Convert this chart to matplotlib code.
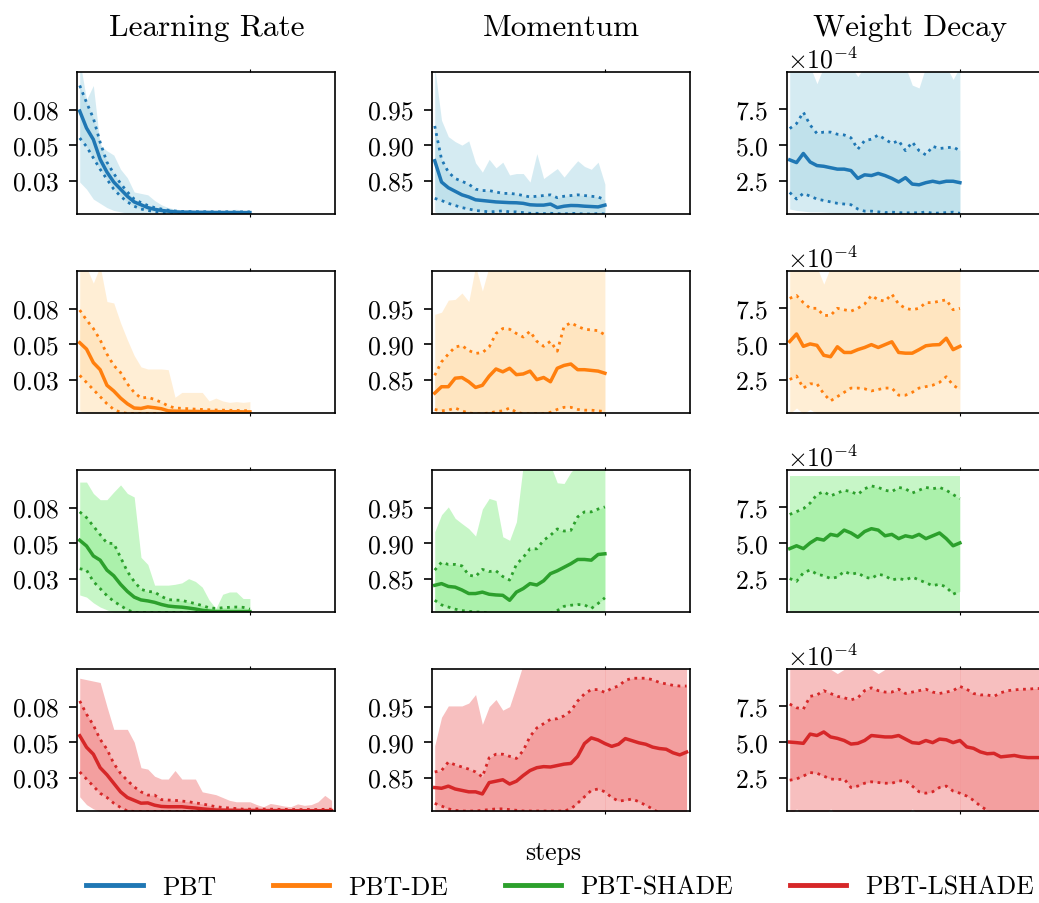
import numpy as np
import matplotlib
matplotlib.use("Agg")
import matplotlib.pyplot as plt
from matplotlib.lines import Line2D

plt.rcParams['font.family'] = 'cmr10'
plt.rcParams['mathtext.fontset'] = 'cm'
plt.rcParams['axes.formatter.use_mathtext'] = True
plt.rcParams['axes.unicode_minus'] = True

# pasos muestreados cada 2
steps = np.arange(0, 51, 2)
steps_red = np.arange(0, 75, 2)

methods = ["PBT", "PBT-DE", "PBT-SHADE", "PBT-LSHADE"]
params = ["Learning Rate", "Momentum", "Weight Decay"]
line_colors = ["#1f77b4", "#ff7f0e", "#2ca02c", "#d62728"]
fill_colors = ["lightblue", "navajowhite", "lightgreen", "lightcoral"]

# ---------------- PBT ----------------
lr_pbt_mean = [0.074, 0.062, 0.054, 0.040, 0.031, 0.024, 0.019, 0.014, 0.010, 0.008, 0.006, 0.0048, 0.004,
               0.0035, 0.003, 0.0028, 0.0028, 0.0027, 0.0027, 0.0026, 0.0026, 0.0026, 0.0025, 0.0025, 0.0025, 0.0025]
lr_pbt_hi = [0.092, 0.080, 0.069, 0.052, 0.038, 0.030, 0.023, 0.017, 0.012, 0.0095, 0.0075, 0.006, 0.005,
             0.0042, 0.0036, 0.0033, 0.0032, 0.0031, 0.0031, 0.0031, 0.003, 0.003, 0.0031, 0.003, 0.003, 0.003]
lr_pbt_lo = [0.055, 0.049, 0.041, 0.033, 0.026, 0.019, 0.014, 0.010, 0.007, 0.005, 0.004, 0.0032, 0.0026,
             0.0022, 0.0022, 0.0022, 0.0022, 0.0022, 0.0022, 0.0022, 0.0022, 0.0022, 0.0022, 0.0022, 0.0022, 0.0022]
lr_pbt_max = [0.11, 0.082, 0.092, 0.05, 0.046, 0.043, 0.033, 0.027, 0.017, 0.016, 0.015, 0.011, 0.008, 0.006,
              0.005, 0.0045, 0.0042, 0.004, 0.004, 0.0042, 0.004, 0.004, 0.0045, 0.0048, 0.0042, 0.004]
lr_pbt_min = [0.024, 0.019, 0.012, 0.009, 0.006, 0.004, 0.003] + [0.002] * 19

mo_pbt_mean = [0.878, 0.848, 0.840, 0.835, 0.830, 0.827, 0.823, 0.822, 0.821, 0.820, 0.8195, 0.819, 0.8188,
               0.818, 0.816, 0.8155, 0.8155, 0.817, 0.812, 0.814, 0.815, 0.8148, 0.814, 0.8135, 0.813, 0.8155]
mo_pbt_hi = [0.927, 0.880, 0.862, 0.853, 0.849, 0.845, 0.838, 0.836, 0.836, 0.834, 0.832, 0.832, 0.831,
             0.829, 0.827, 0.828, 0.829, 0.830, 0.826, 0.828, 0.829, 0.830, 0.829, 0.828, 0.827, 0.823]
mo_pbt_lo = [0.825, 0.822, 0.818, 0.815, 0.812, 0.810, 0.808, 0.807, 0.806, 0.8065, 0.8075, 0.806, 0.806,
             0.805, 0.804, 0.804, 0.8035, 0.804, 0.8035, 0.803, 0.804, 0.8035, 0.803, 0.803, 0.8035, 0.803]
mo_pbt_max = [1.01, 0.935, 0.912, 0.905, 0.900, 0.906, 0.875, 0.862, 0.880, 0.868, 0.876, 0.858, 0.860,
              0.860, 0.848, 0.888, 0.853, 0.860, 0.867, 0.855, 0.867, 0.878, 0.870, 0.866, 0.876, 0.845]
mo_pbt_min = [0.806] + [0.801] * 25

wd_pbt_mean = [3.95, 3.76, 4.4, 3.8, 3.55, 3.5, 3.4, 3.3, 3.3, 3.2, 2.65, 2.9, 2.85, 3.0, 2.85, 2.65, 2.4,
               2.7, 2.25, 2.2, 2.35, 2.45, 2.35, 2.45, 2.45, 2.35]
wd_pbt_hi = [6.15, 6.5, 7.3, 6.4, 5.8, 5.9, 5.9, 5.75, 5.7, 5.5, 4.7, 5.3, 5.4, 5.7, 5.4, 5.1, 5.3, 4.6, 5.2,
             4.6, 4.3, 4.9, 4.75, 4.8, 4.85, 4.6]
wd_pbt_lo = [1.66, 1.2, 1.6, 1.4, 1.2, 1.1, 1.0, 0.9, 0.85, 0.8, 0.5, 0.35, 0.35, 0.3, 0.25, 0.28, 0.25,
             0.22, 0.25, 0.22, 0.3, 0.2, 0.22, 0.25, 0.28, 0.2]
wd_pbt_max = [10.5, 10.5, 10.5, 10.5, 9.3, 10.5, 10.5, 10.5, 10.5, 10.5, 9.8, 10.5, 10.5, 10.5, 10.5, 10.5,
              10.5, 10.5, 9.2, 9.0, 10.5, 10.5, 10.5, 10.5, 9.6, 10.5]
wd_pbt_min = [0.5, 0.4, 0.35, 0.3, 0.3, 0.28, 0.25] + [0.2] * 19

# ---------------- PBT-DE ----------------
lr_de_mean = [0.051, 0.0465, 0.037, 0.032, 0.021, 0.017, 0.012, 0.008, 0.005, 0.0047, 0.0058, 0.0052, 0.0045,
              0.003, 0.0028, 0.0027, 0.0026, 0.0026, 0.0025, 0.0025, 0.0025, 0.0024, 0.0024, 0.0024, 0.0023, 0.0023]
lr_de_hi = [0.074, 0.067, 0.061, 0.053, 0.043, 0.035, 0.030, 0.022, 0.016, 0.012, 0.0126, 0.011, 0.009,
            0.0065, 0.005, 0.0048, 0.0045, 0.0042, 0.004, 0.0038, 0.0036, 0.0035, 0.0034, 0.0033, 0.0032, 0.003]
lr_de_lo = [0.028, 0.023, 0.018, 0.013, 0.008, 0.004, 0.002] + [0.0012] * 19
lr_de_max = [0.105, 0.104, 0.093, 0.105, 0.080, 0.079, 0.065, 0.053, 0.042, 0.034, 0.0325, 0.0325, 0.0325,
             0.032, 0.0126, 0.016, 0.016, 0.016, 0.016, 0.010, 0.012, 0.010, 0.009, 0.0095, 0.009, 0.0095]
lr_de_min = [0.003] + [0.0012] * 25

mo_de_mean = [0.831, 0.840, 0.840, 0.852, 0.853, 0.847, 0.839, 0.842, 0.855, 0.865, 0.861, 0.866, 0.857,
              0.858, 0.862, 0.850, 0.853, 0.847, 0.866, 0.870, 0.872, 0.864, 0.864, 0.863, 0.862, 0.859]
mo_de_hi = [0.856, 0.875, 0.886, 0.896, 0.898, 0.891, 0.887, 0.888, 0.896, 0.915, 0.922, 0.921, 0.915,
            0.910, 0.918, 0.904, 0.897, 0.904, 0.890, 0.925, 0.930, 0.925, 0.921, 0.920, 0.919, 0.913]
mo_de_lo = [0.808, 0.806, 0.807, 0.810, 0.806, 0.803, 0.802, 0.802, 0.803, 0.805, 0.806, 0.810, 0.804,
            0.802, 0.802, 0.802, 0.802, 0.804, 0.808, 0.811, 0.811, 0.808, 0.807, 0.807, 0.806, 0.805]
mo_de_max = [0.942, 0.945, 0.962, 0.963, 0.972, 0.96, 1.01, 0.975] + [1.01] * 18
mo_de_min = [0.80] * 26

wd_de_mean = [5.17, 5.7, 4.83, 5.0, 4.9, 4.2, 4.1, 4.8, 4.4, 4.4, 4.6, 4.75, 4.95, 4.75, 4.95, 5.15, 4.4,
              4.35, 4.35, 4.6, 4.87, 4.93, 4.95, 5.4, 4.6, 4.83]
wd_de_hi = [8.2, 8.4, 7.9, 7.5, 7.5, 7.0, 7.0, 7.5, 7.4, 7.3, 7.5, 7.8, 8.4, 8.1, 8.0, 8.5, 7.8, 7.5, 7.4,
            7.5, 7.9, 7.9, 8.0, 8.1, 7.4, 7.5]
wd_de_lo = [2.5, 2.75, 1.9, 2.2, 2.2, 1.5, 1.0, 1.3, 1.6, 1.9, 1.9, 1.85, 1.7, 1.8, 1.9, 1.9, 1.4, 1.4, 1.6,
            1.9, 2.0, 2.1, 2.3, 2.7, 2.1, 1.8]
wd_de_max = [10.4] * 5 + [9.2] + [10.4] * 20
wd_de_min = [0.1, 0.5, 0.1, 0.4] + [0.1] * 22

# ---------------- PBT-SHADE ----------------
lr_sh_mean = [0.052, 0.048, 0.041, 0.038, 0.031, 0.027, 0.021, 0.016, 0.012, 0.010, 0.0093, 0.0083, 0.0068,
              0.0057, 0.0052, 0.0049, 0.0043, 0.0036, 0.0027, 0.0022, 0.0018, 0.0018, 0.0018, 0.0018, 0.0018, 0.0018]
lr_sh_hi = [0.072, 0.068, 0.062, 0.056, 0.050, 0.0497, 0.040, 0.030, 0.023, 0.0175, 0.016, 0.0155, 0.0125,
            0.0102, 0.0099, 0.0097, 0.0085, 0.0074, 0.006, 0.0045, 0.004, 0.0045, 0.0048, 0.005, 0.0048, 0.0035]
lr_sh_lo = [0.032, 0.031, 0.023, 0.018, 0.013, 0.009, 0.006, 0.003] + [0.0012] * 18
lr_sh_max = [0.093, 0.093, 0.085, 0.0806, 0.0806, 0.086, 0.091, 0.085, 0.0825, 0.040, 0.035, 0.0204, 0.0204,
             0.0204, 0.021, 0.022, 0.025, 0.023, 0.019, 0.010, 0.004, 0.014, 0.0156, 0.0156, 0.011, 0.011]
lr_sh_min = [0.0135, 0.012, 0.008, 0.005, 0.003] + [0.0012] * 21

mo_sh_mean = [0.8406, 0.843, 0.839, 0.838, 0.834, 0.829, 0.829, 0.831, 0.828, 0.827, 0.8265, 0.8195, 0.831,
              0.836, 0.843, 0.841, 0.847, 0.857, 0.861, 0.866, 0.871, 0.877, 0.877, 0.876, 0.884, 0.885]
mo_sh_hi = [0.862, 0.873, 0.870, 0.870, 0.868, 0.855, 0.853, 0.863, 0.860, 0.861, 0.853, 0.848, 0.870,
            0.880, 0.892, 0.892, 0.904, 0.911, 0.920, 0.917, 0.918, 0.937, 0.944, 0.944, 0.948, 0.951]
mo_sh_lo = [0.8195, 0.813, 0.810, 0.807, 0.805, 0.804, 0.803, 0.803, 0.801, 0.801, 0.801, 0.801, 0.801,
            0.801, 0.801, 0.801, 0.801, 0.801, 0.805, 0.811, 0.8125, 0.8135, 0.813, 0.808, 0.815, 0.823]
mo_sh_max = [0.916, 0.94, 0.951, 0.935, 0.9275, 0.9204, 0.910, 0.948, 0.963, 0.960, 0.909, 0.904, 0.93,
             1.01, 1.01, 1.01, 1.01, 1.01, 0.985, 0.984, 1.0, 1.01, 1.01, 1.01, 1.01, 1.01]
mo_sh_min = [0.80] * 26

wd_sh_mean = [4.6, 4.8, 4.6, 5.0, 5.3, 5.2, 5.6, 5.5, 5.9, 5.7, 5.4, 5.8, 6.0, 5.9, 5.5, 5.6, 5.3, 5.5, 5.4,
              5.6, 5.3, 5.5, 5.7, 5.3, 4.8, 5.0]
wd_sh_hi = [7.0, 7.2, 7.4, 7.8, 8.4, 8.6, 8.3, 8.5, 8.7, 8.6, 8.4, 8.8, 9.0, 8.9, 8.7, 8.6, 8.9, 8.8, 8.5,
            8.7, 8.9, 8.8, 8.9, 8.7, 8.4, 8.1]
wd_sh_lo = [2.5, 2.3, 2.9, 3.1, 2.8, 2.7, 2.5, 2.6, 3.0, 2.8, 2.9, 2.6, 2.5, 2.8, 2.7, 2.4, 2.5, 2.4, 2.6,
            2.4, 2.2, 2.0, 2.1, 1.9, 1.4, 1.6]
wd_sh_max = [9.7] * 26
wd_sh_min = [0.1] * 26

# ---------------- PBT-LSHADE ----------------
lr_ls_mean = [0.0545, 0.0464, 0.0415, 0.032, 0.027, 0.021, 0.015, 0.011, 0.009, 0.007, 0.0072, 0.0056,
              0.0047, 0.0045, 0.0045, 0.0045, 0.004, 0.0036, 0.003, 0.0026, 0.0022, 0.0021, 0.002, 0.002,
              0.0019, 0.0019, 0.0019, 0.0018, 0.0018, 0.0018, 0.0018, 0.0017, 0.0017, 0.0017, 0.0017, 0.0017,
              0.0017, 0.0018]
lr_ls_hi = [0.079, 0.0697, 0.062, 0.052, 0.045, 0.035, 0.028, 0.023, 0.0185, 0.015, 0.0127, 0.0127, 0.0095,
            0.0092, 0.009, 0.0085, 0.008, 0.0072, 0.0065, 0.0055, 0.0045, 0.004, 0.0036, 0.0032, 0.0028, 0.0028,
            0.003, 0.0028, 0.0028, 0.0027, 0.0026, 0.0026, 0.0025, 0.0025, 0.0026, 0.0025, 0.0027, 0.0028]
lr_ls_lo = [0.029, 0.024, 0.019, 0.014, 0.011, 0.007, 0.004, 0.0015] + [0.0012] * 30
lr_ls_max = [0.095, 0.094, 0.093, 0.092, 0.075, 0.059, 0.059, 0.059, 0.05, 0.032, 0.031, 0.026, 0.024, 0.024,
             0.030, 0.024, 0.024, 0.024, 0.015, 0.014, 0.013, 0.011, 0.009, 0.008, 0.008, 0.008, 0.006, 0.0045,
             0.0068, 0.006, 0.005, 0.0045, 0.0065, 0.0055, 0.006, 0.008, 0.0125, 0.009]
lr_ls_min = [0.0115, 0.006, 0.003] + [0.0012] * 35

mo_ls_mean = [0.836, 0.835, 0.838, 0.834, 0.832, 0.830, 0.830, 0.827, 0.843, 0.845, 0.847, 0.841, 0.845,
              0.853, 0.860, 0.864, 0.8655, 0.865, 0.867, 0.869, 0.870, 0.880, 0.898, 0.906, 0.903, 0.898,
              0.894, 0.897, 0.905, 0.902, 0.899, 0.897, 0.893, 0.891, 0.890, 0.885, 0.882, 0.886]
mo_ls_hi = [0.858, 0.860, 0.872, 0.868, 0.865, 0.862, 0.858, 0.851, 0.878, 0.883, 0.883, 0.880, 0.877,
            0.888, 0.908, 0.920, 0.926, 0.932, 0.933, 0.937, 0.944, 0.958, 0.968, 0.974, 0.974, 0.970,
            0.976, 0.979, 0.987, 0.990, 0.990, 0.990, 0.988, 0.984, 0.982, 0.980, 0.979, 0.979]
mo_ls_lo = [0.8137, 0.810, 0.806, 0.804, 0.803, 0.803, 0.803, 0.804, 0.805, 0.806, 0.806, 0.805, 0.804,
            0.803, 0.803, 0.803, 0.803, 0.803, 0.803, 0.803, 0.806, 0.814, 0.823, 0.832, 0.834, 0.830,
            0.822, 0.817, 0.818, 0.820, 0.816, 0.811, 0.806, 0.800, 0.797, 0.795, 0.795, 0.795]
mo_ls_max = [0.895, 0.935, 0.951, 0.951, 0.951, 0.955, 0.967, 0.925, 0.950, 0.960, 0.945, 0.950, 0.979] + [1.01] * 25
mo_ls_min = [0.80] * 38

wd_ls_mean = [4.99, 4.95, 4.9, 5.55, 5.45, 5.7, 5.35, 5.25, 5.1, 4.85, 4.9, 5.1, 5.45, 5.4, 5.35, 5.35, 5.45,
              5.2, 4.95, 4.9, 5.1, 4.95, 5.2, 5.15, 4.95, 5.1, 4.65, 4.55, 4.3, 4.17, 4.2, 3.95, 4.0, 4.05,
              3.95, 3.9, 3.9, 3.9]
wd_ls_hi = [7.66, 7.4, 7.3, 8.2, 8.3, 8.6, 8.4, 8.2, 8.1, 7.95, 8.1, 8.6, 8.8, 8.6, 8.5, 8.5, 8.7, 8.4, 8.5,
            8.6, 8.7, 8.5, 8.4, 8.5, 8.6, 8.9, 8.7, 8.4, 8.3, 8.3, 8.2, 8.45, 8.6, 8.65, 8.7, 8.7, 8.75, 8.75]
wd_ls_lo = [2.31, 2.4, 2.6, 2.85, 2.8, 2.6, 2.4, 2.35, 2.4, 1.8, 1.9, 2.1, 2.2, 2.15, 2.1, 2.1, 2.25, 2.3,
            1.9, 1.5, 1.4, 1.5, 1.8, 1.9, 1.55, 1.4, 1.2, 0.9, 0.5, 0.2, -0.2, -0.3, -0.3, -0.3, -0.3, -0.3,
            -0.3, -0.3]
wd_ls_max = [10.1] * 7 + [9.8] + [10.1] * 5 + [9.8] + [10.1] * 24
wd_ls_min = [-0.2, 0.3] + [-0.2] * 4 + [0.3] + [-0.2] * 11 + [0.3] + [-0.2] * 19

data = {
    "PBT": [(lr_pbt_mean, lr_pbt_lo, lr_pbt_hi, lr_pbt_min, lr_pbt_max),
            (mo_pbt_mean, mo_pbt_lo, mo_pbt_hi, mo_pbt_min, mo_pbt_max),
            (wd_pbt_mean, wd_pbt_lo, wd_pbt_hi, wd_pbt_min, wd_pbt_max)],
    "PBT-DE": [(lr_de_mean, lr_de_lo, lr_de_hi, lr_de_min, lr_de_max),
               (mo_de_mean, mo_de_lo, mo_de_hi, mo_de_min, mo_de_max),
               (wd_de_mean, wd_de_lo, wd_de_hi, wd_de_min, wd_de_max)],
    "PBT-SHADE": [(lr_sh_mean, lr_sh_lo, lr_sh_hi, lr_sh_min, lr_sh_max),
                  (mo_sh_mean, mo_sh_lo, mo_sh_hi, mo_sh_min, mo_sh_max),
                  (wd_sh_mean, wd_sh_lo, wd_sh_hi, wd_sh_min, wd_sh_max)],
    "PBT-LSHADE": [(lr_ls_mean, lr_ls_lo, lr_ls_hi, lr_ls_min, lr_ls_max),
                   (mo_ls_mean, mo_ls_lo, mo_ls_hi, mo_ls_min, mo_ls_max),
                   (wd_ls_mean, wd_ls_lo, wd_ls_hi, wd_ls_min, wd_ls_max)],
}

W, H = 1039, 904
fig = plt.figure(figsize=(W / 100, H / 100), dpi=100)

col_left = [77, 432, 787]
row_top = [73, 272, 471, 670]
aw, ah = 258, 142
ylims = [(0.0015, 0.1015), (0.803, 1.003), (0.15e-4, 10.12e-4)]
yticks = [[0.025, 0.05, 0.075], [0.85, 0.90, 0.95], [2.5e-4, 5e-4, 7.5e-4]]
ylabels = [["0.03", "0.05", "0.08"], ["0.85", "0.90", "0.95"], None]

for r, m in enumerate(methods):
    x = steps_red if m == "PBT-LSHADE" else steps
    for c in range(3):
        ax = fig.add_axes([col_left[c] / W, 1 - (row_top[r] + ah) / H, aw / W, ah / H])
        mean, lo, hi, mn, mx = [np.array(v) for v in data[m][c]]
        if c == 2:
            mean, lo, hi, mn, mx = mean * 1e-4, lo * 1e-4, hi * 1e-4, mn * 1e-4, mx * 1e-4
        # el LSHADE se dibuja en dos tramos
        if m == "PBT-LSHADE":
            parts = [slice(0, 26), slice(25, None)]
        else:
            parts = [slice(None)]
        for s in parts:
            ax.fill_between(x[s], mn[s], mx[s], color=fill_colors[r], alpha=0.5, lw=0)
            ax.fill_between(x[s], lo[s], hi[s], color=fill_colors[r], alpha=0.5, lw=0)
        ax.plot(x, lo, ":", color=line_colors[r], lw=2)
        ax.plot(x, hi, ":", color=line_colors[r], lw=2)
        ax.plot(x, mean, color=line_colors[r], lw=2.5)
        ax.set_xlim(-0.8, 75)
        ax.set_ylim(*ylims[c])
        ax.set_yticks(yticks[c])
        if ylabels[c] is not None:
            ax.set_yticklabels(ylabels[c])
        else:
            ax.ticklabel_format(style="sci", axis="y", scilimits=(0, 0))
        ax.set_xticks([50])
        ax.set_xticklabels([])
        ax.tick_params(axis="x", top=True, bottom=True, length=2.5, width=0.8)
        ax.tick_params(axis="y", labelsize=18.5, length=6, width=1.2, pad=7)
        ax.yaxis.get_offset_text().set_fontsize(18.5)
        for sp in ax.spines.values():
            sp.set_linewidth(1.2)

titles_x = [207, 561, 910]
for t, cx in zip(params, titles_x):
    fig.text(cx / W, 1 - 28 / H, t, ha="center", va="center", fontsize=22.5)

fig.text(553 / W, 1 - 853 / H, "steps", ha="center", va="center", fontsize=18.5)
handles = [Line2D([0], [0], color=col, lw=3.5) for col in line_colors]
fig.legend(handles, methods, loc="center", bbox_to_anchor=(560 / W, 1 - 888 / H), ncol=4, frameon=False,
           fontsize=18.5, handlelength=2.2, handletextpad=0.75, columnspacing=2.2)

fig.savefig("out.png", dpi=100)
